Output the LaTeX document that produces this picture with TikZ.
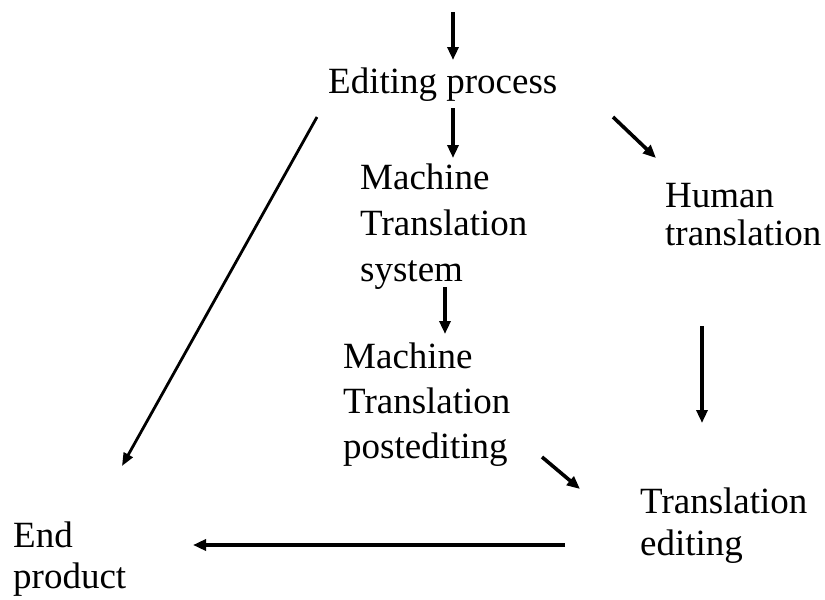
\documentclass[tikz,border=0pt]{standalone}
\usepackage{fontspec}
\setmainfont{Liberation Serif}
\usetikzlibrary{arrows.meta}
\begin{document}
\begin{tikzpicture}[x=1pt,y=-1pt,
  lbl/.style={anchor=base west,inner sep=0pt,align=left,font=\fontsize{37}{#1}\selectfont},
  lbl/.default=42,
  arr/.style={line width=3.6pt,-{Triangle[length=13pt,width=11pt]}},
  thin arr/.style={line width=2.8pt,-{Triangle[length=13pt,width=10pt]}}]
\useasboundingbox (0,0) rectangle (825,600);
% base anchor of a multi-line node = baseline of its last line
\node[lbl] (ep) at (328,93) {Editing process};
\node[lbl=46] (mts) at (360,281) {Machine\\Translation\\system};
\node[lbl=38] (ht) at (665,245) {Human\\translation};
\node[lbl=45] (mtp) at (343,458) {Machine\\Translation\\postediting};
\node[lbl=42] (te) at (640,555) {Translation\\editing};
\node[lbl=41] (end) at (13,588) {End\\product};
\coordinate (in) at (453,12);
% arrows
\draw[arr] (in) -- (453,60);
\draw[arr] (453,108) -- (453,158);
\draw[arr] (613,117) -- (656,158);
\draw[arr] (445,287) -- (445,334);
\draw[arr] (702,326) -- (702,423);
\draw[arr] (542,457) -- (580,489);
\draw[arr] (565,545) -- (193,545);
\draw[thin arr] (317,117) -- (122,466);
\end{tikzpicture}
\end{document}
